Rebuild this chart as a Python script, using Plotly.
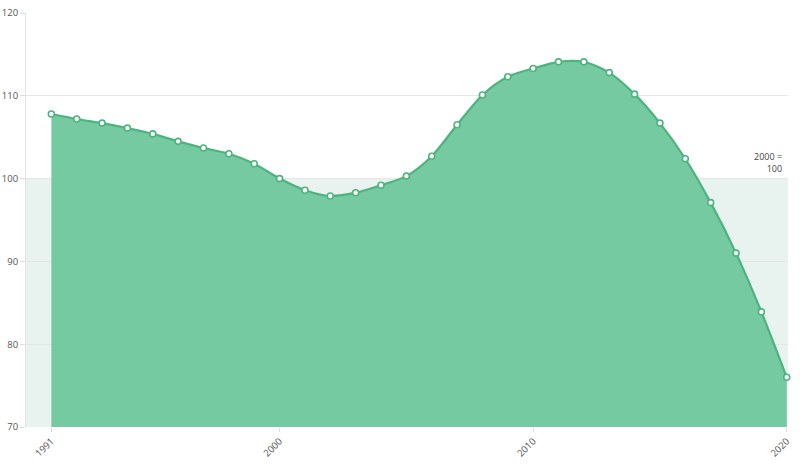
import plotly.graph_objects as go

years = list(range(1991, 2021))
index_values = [107.8, 107.2, 106.7, 106.1, 105.4, 104.5, 103.7, 103.0, 101.8, 100.0,
                98.6, 97.9, 98.3, 99.2, 100.3, 102.7, 106.5, 110.1, 112.3, 113.3,
                114.1, 114.1, 112.8, 110.2, 106.7, 102.4, 97.1, 91.0, 83.9, 76.0]
x_ticks = [1991, 2000, 2010, 2020]
y_ticks = [70, 80, 90, 100, 110, 120]

fig = go.Figure()
fig.add_shape(type="rect", xref="paper", yref="y", x0=0, x1=1, y0=70, y1=100,
              fillcolor="#e8f3f0", line=dict(width=0), layer="below")
fig.add_shape(type="line", xref="paper", yref="y", x0=0, x1=1, y0=100, y1=100,
              line=dict(color="#dfe8e5", width=1), layer="below")
fig.add_trace(go.Scatter(
    x=years, y=index_values, mode="lines+markers",
    line=dict(color="#4db37f", width=2.2, shape="spline", smoothing=0.8),
    fill="tozeroy", fillcolor="rgba(108,198,155,0.93)",
    marker=dict(size=6, color="white", line=dict(color="#4db37f", width=1.6)),
    hoverinfo="x+y", showlegend=False, cliponaxis=False))

fig.add_annotation(x=1, xref="paper", y=100, yref="y", text="2000 =<br>100",
                   showarrow=False, xanchor="right", yanchor="bottom", align="right",
                   font=dict(size=9, color="#444"), xshift=-4, yshift=2)

fig.update_layout(
    width=800, height=464, margin=dict(l=26, r=12, t=13, b=37),
    paper_bgcolor="white", plot_bgcolor="white",
    font=dict(family="Open Sans, sans-serif", size=9.5, color="#555"),
    xaxis=dict(range=[1990, 2020.05], tickmode="array", tickvals=x_ticks,
               ticktext=[str(t) for t in x_ticks], tickangle=-45, showgrid=False,
               ticks="outside", ticklen=4, tickcolor="#ddd", showline=False,
               zeroline=False, automargin=False),
    yaxis=dict(range=[70, 120], tickvals=y_ticks, showgrid=True, gridcolor="#e6e6e6",
               ticks="outside", ticklen=5, tickcolor="#ddd", showline=True,
               linecolor="#e3e3e3", zeroline=False, automargin=False),
)
fig.write_html("out.html", config={"displayModeBar": False},
               post_script="document.body.style.margin='0';document.body.style.overflow='hidden';")
